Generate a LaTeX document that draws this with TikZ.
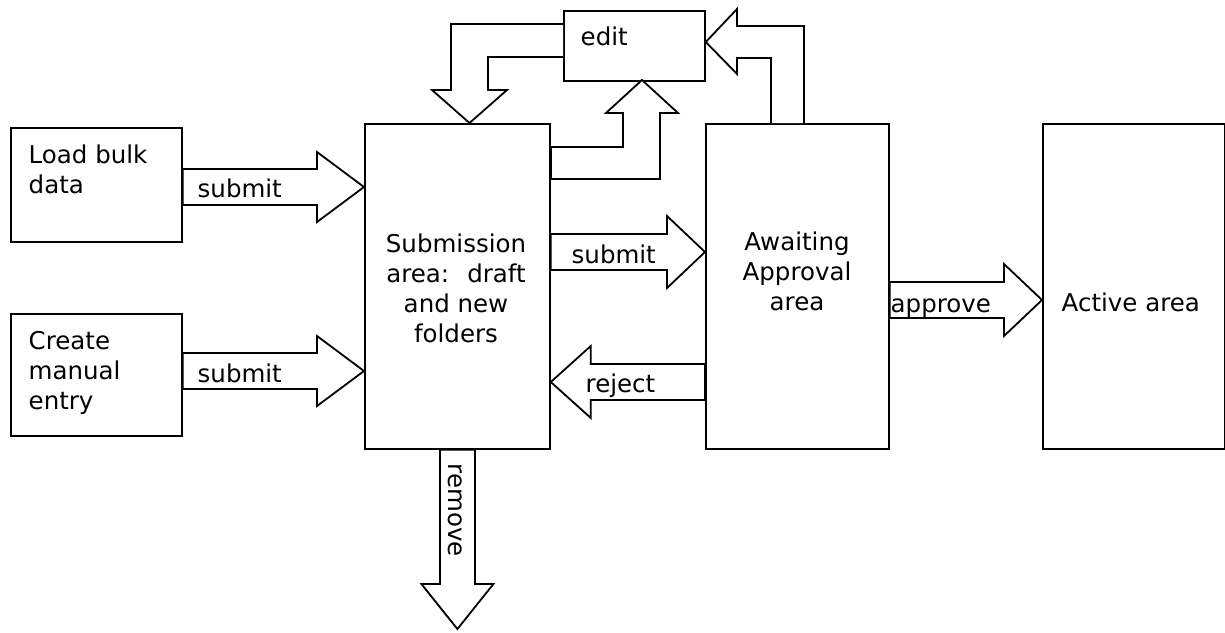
\documentclass[tikz,border=0pt]{standalone}
\usepackage{fontspec}
\setmainfont{DejaVu Sans}
\usetikzlibrary{calc}
\tikzset{
  box/.style={draw, line width=1.8pt, anchor=north west, inner sep=0pt},
  blk/.style={draw, line width=1.8pt, line join=miter, fill=white},
  txt/.style={inner sep=0pt, font=\fontsize{24.5pt}{30pt}\selectfont},
}
\newcommand\HArrow[5]{% start, tip, shaft half, head half, head length
  \draw[blk] let \p1=#1, \p2=#2 in
    (\x1,{\y1+#3pt}) -- ({\x2-(#5)*1pt},{\y1+#3pt}) -- ({\x2-(#5)*1pt},{\y1+#4pt})
    -- (\x2,\y1) -- ({\x2-(#5)*1pt},{\y1-#4pt}) -- ({\x2-(#5)*1pt},{\y1-#3pt})
    -- (\x1,{\y1-#3pt}) -- cycle;}
\newcommand\VArrow[5]{% start, tip, shaft half, head half, head length
  \draw[blk] let \p1=#1, \p2=#2 in
    ({\x1-#3pt},\y1) -- ({\x1-#3pt},{\y2+(#5)*1pt}) -- ({\x1-#4pt},{\y2+(#5)*1pt})
    -- (\x1,\y2) -- ({\x1+#4pt},{\y2+(#5)*1pt}) -- ({\x1+#3pt},{\y2+(#5)*1pt})
    -- ({\x1+#3pt},\y1) -- cycle;}
\begin{document}
\begin{tikzpicture}[x=1pt,y=-1pt]
\fill[white] (0,0) rectangle (1225,632);
\useasboundingbox (0,0) rectangle (1225,632);

% boxes
\node[box, minimum width=171pt, minimum height=114pt] (load) at (10,127) {};
\node[box, minimum width=171pt, minimum height=122pt] (create) at (10,313) {};
\node[box, minimum width=185pt, minimum height=325pt] (sub) at (364,123) {};
\node[box, minimum width=141pt, minimum height=70pt] (edit) at (563,10) {};
\node[box, minimum width=183pt, minimum height=325pt] (await) at (705,123) {};
\node[box, minimum width=182pt, minimum height=325pt] (active) at (1042,123) {};

% level coordinates
\coordinate (y1) at (0,187);
\coordinate (y2) at (0,371);
\coordinate (y3) at (0,252);
\coordinate (y4) at (0,382);
\coordinate (y5) at (0,300);
\coordinate (ya) at (0,24);
\coordinate (yb) at (0,57);
\coordinate (yd) at (0,42);
\coordinate (rmEnd) at (456.5,629);

% straight block arrows
\HArrow{(load.east|-y1)}{(sub.west|-y1)}{18}{35}{47}
\HArrow{(create.east|-y2)}{(sub.west|-y2)}{18}{35}{47}
\HArrow{(sub.east|-y3)}{(await.west|-y3)}{18}{36}{38}
\HArrow{(await.west|-y4)}{(sub.east|-y4)}{18}{36}{-40}
\HArrow{(await.east|-y5)}{(active.west|-y5)}{18}{36}{38}
\VArrow{(sub.south)}{(rmEnd)}{17.5}{36}{45}

% bent arrows
\draw[blk] (edit.west|-ya) -- (451,24) -- (451,90) -- (432,90) -- (469.5,123)
  -- (507,90) -- (488,90) -- (488,57) -- (edit.west|-yb);
\draw[blk] (551,147) -- (623,147) -- (623,113) -- (606,113) -- (642,80)
  -- (678,113) -- (660,113) -- (660,179) -- (551,179) -- cycle;
\draw[blk] (771,123) -- (771,58) -- (737,58) -- (737,74) -- (edit.east|-yd)
  -- (737,9) -- (737,26) -- (804,26) -- (804,123);

% texts (base anchor of a multi-line node = baseline of its last line)
\node[txt, anchor=base west, align=left] (tload) at (28.5,193) {Load bulk\\data};
\node[txt, anchor=base west, align=left] (tcreate) at (28.5,409) {Create\\manual\\entry};
\node[txt, anchor=base, align=center] (tsub) at (456,342) {Submission\\area:~ draft\\and new\\folders};
\node[txt, anchor=base, align=center] (tawait) at (797,310) {Awaiting\\Approval\\area};
\node[txt, anchor=base west] (tactive) at (1061.5,311) {Active area};
\node[txt, anchor=base west] (tedit) at (580.5,45) {edit};
\node[txt, anchor=base west] (ts1) at (197.5,197) {submit};
\node[txt, anchor=base west] (ts2) at (197.5,382) {submit};
\node[txt, anchor=base west] (ts3) at (571.5,263) {submit};
\node[txt, anchor=base west] (tapp) at (890.5,312) {approve};
\node[txt, anchor=base west] (trej) at (585.5,392) {reject};
\node[txt, anchor=base west, rotate=-90] (trem) at (448,463.5) {remove};
\end{tikzpicture}
\end{document}
